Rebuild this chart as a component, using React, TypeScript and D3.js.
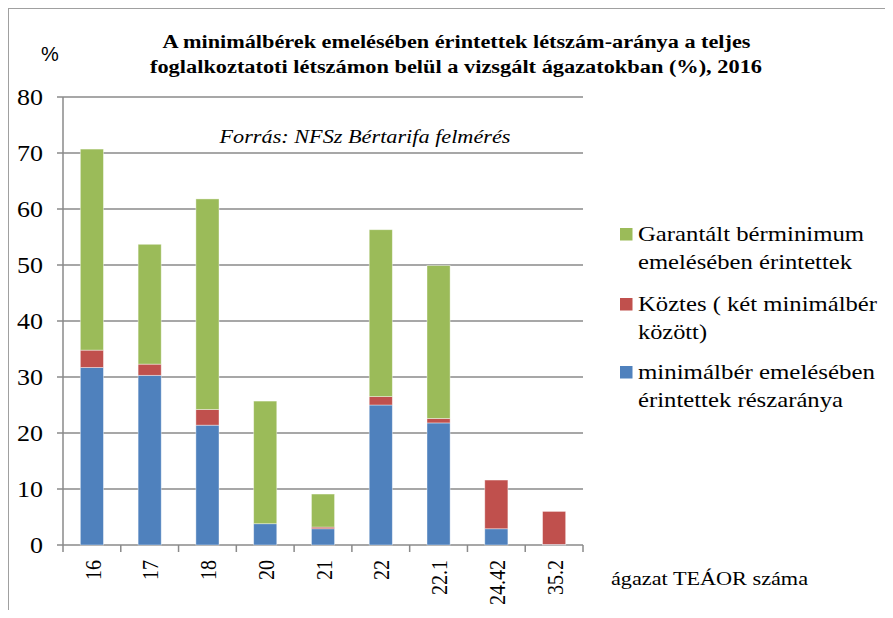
import React from 'react';
import * as d3 from 'd3';

// sector codes (TEÁOR)
const sectors = ['16', '17', '18', '20', '21', '22', '22.1', '24.42', '35.2'];
// minimálbér emelésében érintettek részaránya
const blueVals = [31.7, 30.3, 21.4, 3.8, 2.9, 25.0, 21.8, 2.9, 0.1];
// Köztes ( két minimálbér között)
const redVals = [3.1, 2.0, 2.8, 0.0, 0.3, 1.5, 0.8, 8.7, 5.9];
// Garantált bérminimum emelésében érintettek
const greenVals = [35.9, 21.4, 37.6, 21.9, 5.9, 29.8, 27.3, 0.0, 0.0];
const yTicks = [0, 10, 20, 30, 40, 50, 60, 70, 80];

const legendItems = [
  { color: '#9BBB59', lines: ['Garantált bérminimum', 'emelésében érintettek'], widths: [226, 214] },
  { color: '#C0504D', lines: ['Köztes ( két minimálbér', 'között)'], widths: [239, 69] },
  { color: '#4F81BD', lines: ['minimálbér emelésében', 'érintettek részaránya'], widths: [237, 205] },
];

export default function App() {
  const W = 893, H = 618;
  const m = { left: 63, right: 583, top: 97, bottom: 545 };
  const serif = "'Liberation Serif', 'DejaVu Serif', serif";
  const sx = 1.13; // picture is a bit wider than tall

  const x = d3.scaleBand().domain(sectors).range([m.left, m.right]);
  const y = d3.scaleLinear().domain([0, 80]).range([m.bottom, m.top]);
  const bw = x.bandwidth() * 0.4;

  const rows = sectors.map((s, i) => ({ s, blue: blueVals[i], red: redVals[i], green: greenVals[i] }));
  const stack = d3.stack<any>().keys(['blue', 'red', 'green'])(rows);
  const colors: Record<string, string> = { blue: '#4F81BD', red: '#C0504D', green: '#9BBB59' };

  const grid = '#8a8a8a';
  const ts = { fontFamily: serif };

  return (
    <div style={{ margin: -8 }}>
      <svg width={W} height={H} style={{ display: 'block', background: '#fff', fontFamily: serif }}>
        {/* outer frame */}
        <line x1={8} x2={W} y1={8.5} y2={8.5} stroke="#a0a0a0" />
        <line x1={8.5} x2={8.5} y1={8} y2={H} stroke="#a0a0a0" />

        {/* title */}
        <text style={ts} x={162.5} y={48} fontWeight="bold" fontSize={18} textLength={588} lengthAdjust="spacingAndGlyphs">
          A minimálbérek emelésében érintettek létszám-aránya a teljes
        </text>
        <text style={ts} x={150} y={73} fontWeight="bold" fontSize={18} textLength={612} lengthAdjust="spacingAndGlyphs">
          foglalkoztatoti létszámon belül a vizsgált ágazatokban (%), 2016
        </text>
        <text x={50} y={61} textAnchor="middle" style={{ fontFamily: "'Liberation Sans', Arial, sans-serif" }} fontSize={20}>%</text>

        {/* gridlines + y axis */}
        {yTicks.map(t => (
          <g key={t}>
            <line x1={m.left - 6} x2={m.right} y1={y(t)} y2={y(t)} stroke={grid} strokeWidth={1.5} />
            <text style={ts} transform={`translate(43,${y(t)}) scale(${sx},1)`} dy="0.34em" textAnchor="end" fontSize={23}>{t}</text>
          </g>
        ))}
        <line x1={m.left} x2={m.left} y1={m.top} y2={m.bottom} stroke={grid} strokeWidth={1.5} />

        {/* x tick marks */}
        {sectors.map(s => (
          <line key={'t' + s} x1={x(s)!} x2={x(s)!} y1={m.bottom} y2={m.bottom + 7} stroke={grid} strokeWidth={1.5} />
        ))}
        <line x1={m.right} x2={m.right} y1={m.bottom} y2={m.bottom + 7} stroke={grid} strokeWidth={1.5} />

        {/* bars */}
        {stack.map(layer => (
          <g key={layer.key} fill={colors[layer.key]}>
            {layer.map((d, i) => (
              d[1] - d[0] > 0 ? (
                <rect key={i}
                  x={x(sectors[i])! + (x.bandwidth() - bw) / 2}
                  y={y(d[1])}
                  width={bw}
                  height={y(d[0]) - y(d[1])}
                  stroke="#fff" strokeOpacity={0.5} strokeWidth={0.8} />
              ) : null
            ))}
          </g>
        ))}

        {/* x labels */}
        {sectors.map(s => {
          const cx = x(s)! + x.bandwidth() / 2 + 1;
          return (
            <text key={'l' + s} style={ts} transform={`translate(${cx},560) scale(${sx},1) rotate(-90)`} dy="0.34em"
              textAnchor="end" fontSize={20}>{s}</text>
          );
        })}
        <text style={ts} x={611} y={585} fontSize={18} textLength={197} lengthAdjust="spacingAndGlyphs">ágazat TEÁOR száma</text>

        {/* source */}
        <text style={ts} x={219.5} y={143} fontStyle="italic" fontSize={19} textLength={291} lengthAdjust="spacingAndGlyphs">
          Forrás: NFSz Bértarifa felmérés
        </text>

        {/* legend */}
        {legendItems.map((it, i) => {
          const by = [241, 311, 379][i];
          return (
            <g key={i}>
              <rect x={620} y={by - 13} width={12.5} height={12.5} fill={it.color} />
              {it.lines.map((ln, j) => (
                <text key={j} style={ts} x={638} y={by + j * 28} fontSize={22}
                  textLength={it.widths[j]} lengthAdjust="spacingAndGlyphs">{ln}</text>
              ))}
            </g>
          );
        })}
      </svg>
    </div>
  );
}
